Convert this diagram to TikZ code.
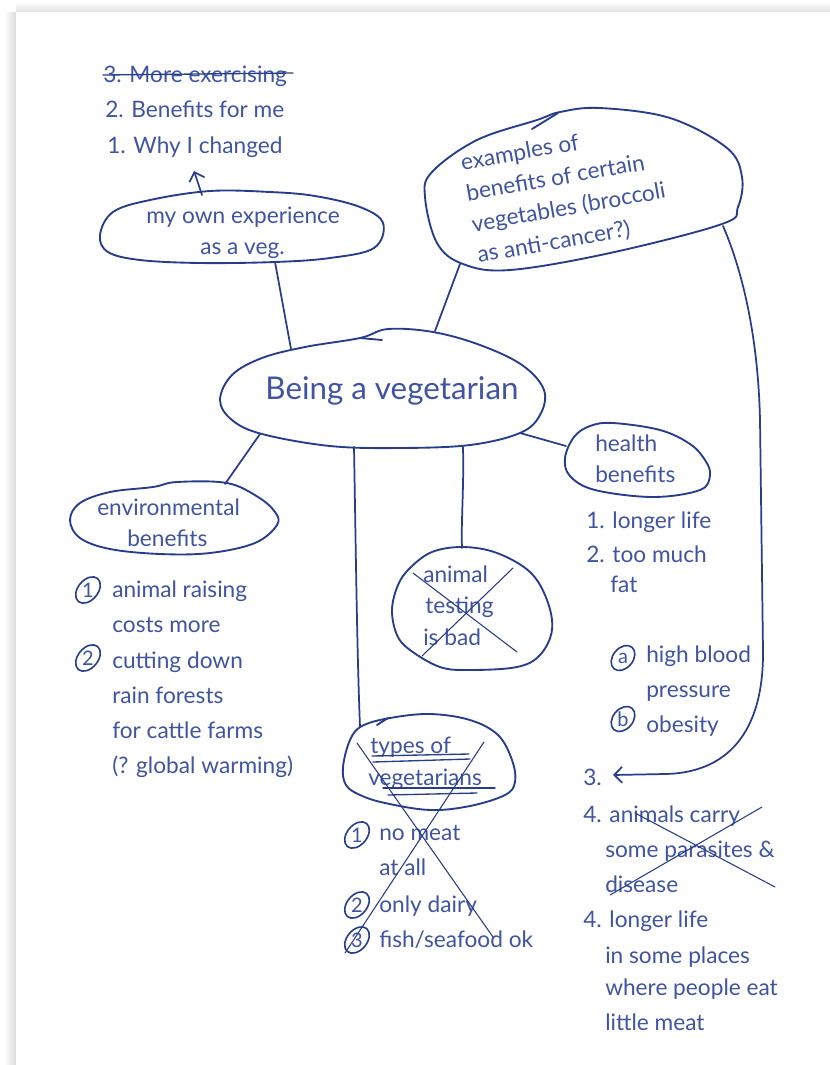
\documentclass[tikz,border=0pt]{standalone}
\usepackage{fontspec}
\setmainfont{Lato}
\usetikzlibrary{arrows.meta}

\definecolor{ink}{RGB}{40,60,140}
\definecolor{inktext}{RGB}{64,84,162}

\tikzset{
  blob/.style={draw=ink, line width=1.4pt, line join=round},
  link/.style={draw=ink, line width=1.3pt, line cap=round},
  cross/.style={draw=ink, line width=0.8pt, line cap=round},
  ring/.style={draw=ink, line width=1.2pt},
  lbl/.style={anchor=base west, inner sep=0pt, text=inktext, font=\fontsize{17}{20}\selectfont},
  num/.style={inner sep=0pt, text=inktext, font=\fontsize{15}{17}\selectfont},
  barb/.style={-{Straight Barb[length=6pt,width=12pt]}},
}

\begin{document}
\begin{tikzpicture}[x=0.75pt,y=0.75pt,yscale=-1]
\useasboundingbox (0,0) rectangle (830,1065);

%Page and its shadow
\fill[white] (0,0) rectangle (830,1065);
\shade[left color=white, right color=black!14] (4,12) rectangle (16,1065);
\shade[top color=white, bottom color=black!12] (16,2) rectangle (830,12);
\fill[white] (16,12) rectangle (830,1065);

%Shape: my own experience
\draw[blob] plot[smooth cycle, tension=0.6] coordinates {(100,235) (113,212) (150,200) (210,191) (270,192) (315,196) (360,207) (383,223) (374,248) (330,258) (275,262) (200,263) (140,260) (108,252)};
%Shape: examples of benefits
\draw[blob] plot[smooth cycle, tension=0.6] coordinates {(425,197) (432,172) (477,140) (537,120) (560,112) (600,108) (670,118) (727,148) (742,177) (738,207) (722,224) (610,253) (510,270) (463,264) (437,243)};
\draw[blob, line cap=round] (532,129) -- (558,113);
%Shape: Being a vegetarian
\draw[blob] plot[smooth cycle, tension=0.6] coordinates {(220,400) (232,375) (262,358) (305,347) (360,338) (388,329) (433,332) (480,345) (522,365) (544,390) (540,415) (520,433) (470,445) (400,448) (330,446) (262,434) (232,420)};
\draw[blob, line cap=round] (360,338) -- (382,340);
%Shape: health benefits
\draw[blob] plot[smooth cycle, tension=0.6] coordinates {(565,458) (574,437) (590,426) (613,423) (660,430) (690,444) (705,460) (710,475) (700,490) (653,497) (595,490) (570,476)};
%Shape: environmental benefits
\draw[blob] plot[smooth cycle, tension=0.6] coordinates {(70,520) (80,503) (110,492) (153,487) (177,482) (227,483) (258,497) (275,512) (277,525) (255,543) (210,553) (160,554) (110,549) (80,538)};
%Shape: animal testing
\draw[blob] plot[smooth cycle, tension=0.6] coordinates {(392,610) (398,585) (410,568) (432,552) (463,547) (497,553) (530,572) (547,600) (552,630) (540,655) (517,667) (470,670) (440,667) (410,650) (397,635)};
%Shape: types of vegetarians
\draw[blob] plot[smooth cycle, tension=0.6] coordinates {(343,767) (350,740) (362,726) (390,718) (430,714) (470,720) (498,735) (512,760) (515,782) (505,795) (470,806) (430,810) (385,803) (360,795) (346,785)};
\draw[blob, line cap=round] (377,725) -- (388,718);

% Connector ends
\coordinate (own-s) at (275,262);
\coordinate (own-n) at (202,195);
\coordinate (why-tip) at (194,171);
\coordinate (ex-sw) at (460,264);
\coordinate (ex-e) at (723,226);
\coordinate (hub-a) at (291,349);
\coordinate (hub-b) at (435,331);
\coordinate (hub-c) at (260,434);
\coordinate (hub-d) at (354,447);
\coordinate (hub-e) at (463,447);
\coordinate (hub-f) at (520,433);
\coordinate (env-n) at (225,484);
\coordinate (types-n) at (360,727);
\coordinate (anim-n) at (462,548);
\coordinate (hb-w) at (566,446);
\coordinate (three-tip) at (613,775);

% Connectors
\draw[link] (own-s) -- (hub-a);
\draw[link] (ex-sw) -- (hub-b);
\draw[link] (hub-c) -- (env-n);
\draw[link] (hub-d) .. controls (356,560) and (357,650) .. (types-n);
\draw[link] (hub-e) .. controls (464,490) and (461,520) .. (anim-n);
\draw[link] (hub-f) -- (hb-w);
\draw[link, barb] (own-n) -- (why-tip);
\draw[link, barb] (ex-e) .. controls (740,265) and (758,330) .. (760,420) -- (763,650) .. controls (764,735) and (725,773) .. (665,774) -- (three-tip);

% Text Node
\node[lbl, anchor=base, font=\fontsize{23.5}{28}\selectfont] (hub) at (392,399) {Being a vegetarian};
% Text Node
\node[lbl] (more) at (103,82) {3. More exercising};
\node[lbl] (forme) at (105,117) {2. Benefits for me};
\node[lbl] (why) at (107,153) {1. Why I changed};
\draw[cross, line width=1pt] (103,75) -- (200,74) -- (293,73);
% Text Node
\node[lbl] (own1) at (146,223) {my own experience};
\node[lbl] (own2) at (200,254) {as a veg.};
% Text Node
\node[lbl, anchor=center, align=left, rotate=10, font=\fontsize{17}{23.5}\selectfont] (ex) at (566,193) {examples of\\benefits of certain\\vegetables (broccoli\\as anti-cancer?)};
% Text Node
\node[lbl] (hb1) at (595,451) {health};
\node[lbl] (hb2) at (595,482) {benefits};
\node[lbl] (hl1) at (586,528) {1. longer life};
\node[lbl] (hl2) at (586,562) {2. too much};
\node[lbl] (hl3) at (610,592) {fat};
\node[num] (hla) at (623,658) {a};
\draw[ring, rotate around={-50:(hla)}] (hla) ellipse (14 and 10);
\node[lbl] (hl4) at (646,662) {high blood};
\node[lbl] (hl5) at (646,697) {pressure};
\node[num] (hlb) at (623,719) {b};
\draw[ring, rotate around={-50:(hlb)}] (hlb) ellipse (14 and 10);
\node[lbl] (hl6) at (646,732) {obesity};
% Text Node
\node[lbl] (hl7) at (583,785) {3.};
\node[lbl] (hl8) at (583,822) {4. animals carry};
\node[lbl] (hl9) at (605,857) {some parasites \&};
\node[lbl] (hl10) at (605,892) {disease};
\draw[cross] (610,895) -- (762,807);
\draw[cross] (635,813) -- (775,887);
\node[lbl] (hl11) at (583,927) {4. longer life};
\node[lbl] (hl12) at (605,963) {in some places};
\node[lbl] (hl13) at (605,995) {where people eat};
\node[lbl] (hl14) at (605,1030) {little meat};
% Text Node
\node[lbl] (env1) at (97,515) {environmental};
\node[lbl] (env2) at (127,546) {benefits};
\node[num] (en1) at (88,590) {1};
\draw[ring, rotate around={-50:(en1)}] (en1) ellipse (15 and 10);
\node[lbl] (el1) at (112,597) {animal raising};
\node[lbl] (el2) at (112,632) {costs more};
\node[num] (en2) at (88,658) {2};
\draw[ring, rotate around={-50:(en2)}] (en2) ellipse (15 and 10);
\node[lbl] (el3) at (112,668) {cutting down};
\node[lbl] (el4) at (112,703) {rain forests};
\node[lbl] (el5) at (112,738) {for cattle farms};
\node[lbl] (el6) at (112,773) {(? global warming)};
% Text Node
\node[lbl] (an1) at (423,582) {animal};
\node[lbl] (an2) at (425,613) {testing};
\node[lbl] (an3) at (423,645) {is bad};
\draw[cross] (413,573) -- (517,652);
\draw[cross] (422,656) -- (513,568);
% Text Node
\node[lbl] (ty1) at (370,753) {types of};
\node[lbl] (ty2) at (368,785) {vegetarians};
\draw[cross, line width=1pt] (372,756) -- (469,754);
\draw[cross, line width=1pt] (373,762) -- (470,759);
\draw[cross, line width=1pt] (383,788) -- (495,788);
\draw[cross, line width=1pt] (388,795) -- (477,793);
\node[num] (tn1) at (357,835) {1};
\draw[ring, rotate around={-50:(tn1)}] (tn1) ellipse (15 and 10);
\node[lbl] (tl1) at (379,840) {no meat};
\node[lbl] (tl2) at (379,875) {at all};
\node[num] (tn2) at (357,905) {2};
\draw[ring, rotate around={-50:(tn2)}] (tn2) ellipse (15 and 10);
\node[lbl] (tl3) at (379,912) {only dairy};
\node[num] (tn3) at (357,940) {3};
\draw[ring, rotate around={-50:(tn3)}] (tn3) ellipse (15 and 10);
\node[lbl] (tl4) at (379,947) {fish/seafood ok};
\draw[cross] (357,743) -- (493,937);
\draw[cross] (484,742) -- (345,953);

\end{tikzpicture}
\end{document}
